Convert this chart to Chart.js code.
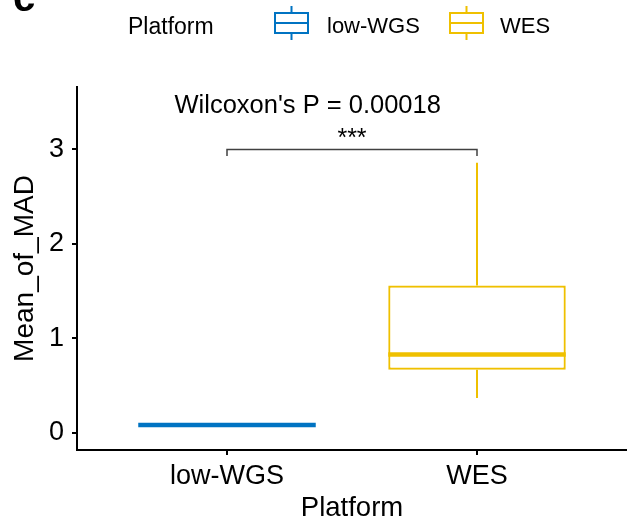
<!DOCTYPE html>
<html>
<head>
<meta charset="utf-8">
<script src="https://cdn.jsdelivr.net/npm/chart.js@4/dist/chart.umd.min.js"></script>
<style>
  html, body { margin: 0; padding: 0; background: #fff; }
  canvas { display: block; }
</style>
</head>
<body>
<canvas id="chart" width="627" height="525"></canvas>
<script>
// Mean_of_MAD per sequencing platform (box-plot summary statistics)
const platforms   = ['low-WGS', 'WES'];
const boxColors   = ['#0073C2', '#EFC000'];
const whiskerLow  = [0.080, 0.37];
const quartile1   = [0.083, 0.67];
const medians     = [0.085, 0.83];
const quartile3   = [0.087, 1.56];
const whiskerHigh = [0.090, 2.86];
const yTickValues = [0, 1, 2, 3];

// Significance annotation
const pValueText  = "Wilcoxon's P = 0.00018";
const pValueAt    = [0.79, 3.39];   // [x, y] in data units (left edge, baseline)
const starsText   = '***';
const starsY      = 3.04;
const bracketFrom = 1, bracketTo = 2;
const bracketY    = 3.0;
const bracketTip  = 2.93;

const FONT = '"Liberation Sans", Arial, Helvetica, sans-serif';

const boxPlotPlugin = {
  id: 'boxPlotParts',
  afterDatasetsDraw(chart) {
    const { ctx, scales: { x, y } } = chart;
    const meta = chart.getDatasetMeta(0);
    ctx.save();
    platforms.forEach((_, i) => {
      const bar = meta.data[i];
      const cx = x.getPixelForValue(i + 1);
      const half = bar.width / 2;
      ctx.strokeStyle = boxColors[i];
      ctx.lineCap = 'butt';
      // whiskers
      ctx.lineWidth = 2;
      ctx.beginPath();
      ctx.moveTo(cx, y.getPixelForValue(quartile3[i]));
      ctx.lineTo(cx, y.getPixelForValue(whiskerHigh[i]));
      ctx.moveTo(cx, y.getPixelForValue(quartile1[i]));
      ctx.lineTo(cx, y.getPixelForValue(whiskerLow[i]));
      ctx.stroke();
      // median
      ctx.lineWidth = 4.5;
      ctx.beginPath();
      const my = y.getPixelForValue(medians[i]);
      ctx.moveTo(cx - half, my);
      ctx.lineTo(cx + half, my);
      ctx.stroke();
    });

    // comparison bracket
    const x1 = x.getPixelForValue(bracketFrom);
    const x2 = x.getPixelForValue(bracketTo);
    const by = y.getPixelForValue(bracketY);
    const ty = y.getPixelForValue(bracketTip);
    ctx.strokeStyle = '#404040';
    ctx.lineWidth = 1.5;
    ctx.beginPath();
    ctx.moveTo(x1, ty);
    ctx.lineTo(x1, by);
    ctx.lineTo(x2, by);
    ctx.lineTo(x2, ty);
    ctx.stroke();

    ctx.fillStyle = '#000';
    ctx.font = '25px ' + FONT;
    ctx.textAlign = 'center';
    ctx.textBaseline = 'alphabetic';
    ctx.fillText(starsText, (x1 + x2) / 2, y.getPixelForValue(starsY));

    ctx.font = '25.5px ' + FONT;
    ctx.textAlign = 'left';
    ctx.fillText(pValueText, x.getPixelForValue(pValueAt[0]), y.getPixelForValue(pValueAt[1]));
    ctx.restore();
  },
  afterDraw(chart) {
    const { ctx } = chart;
    ctx.save();
    // panel letter
    ctx.fillStyle = '#000';
    ctx.font = 'bold 40px ' + FONT;
    ctx.textAlign = 'left';
    ctx.textBaseline = 'alphabetic';
    ctx.fillText('c', 13, 11);

    // legend
    ctx.font = '23px ' + FONT;
    ctx.fillText('Platform', 128, 34);
    const keyX = [275, 450];
    const labelX = [327, 500];
    platforms.forEach((name, i) => {
      const kx = keyX[i];
      const w = 33;
      ctx.strokeStyle = boxColors[i];
      ctx.lineWidth = 2;
      ctx.beginPath();
      ctx.moveTo(kx + w / 2, 6);
      ctx.lineTo(kx + w / 2, 13);
      ctx.moveTo(kx + w / 2, 33);
      ctx.lineTo(kx + w / 2, 40);
      ctx.stroke();
      ctx.strokeRect(kx, 13, w, 20);
      ctx.beginPath();
      ctx.moveTo(kx, 23);
      ctx.lineTo(kx + w, 23);
      ctx.stroke();
      ctx.fillStyle = '#000';
      ctx.font = '22px ' + FONT;
      ctx.fillText(name, labelX[i], 33);
    });
    ctx.restore();
  }
};

new Chart(document.getElementById('chart'), {
  type: 'bar',
  data: {
    datasets: [{
      data: platforms.map((p, i) => ({ x: i + 1, y: [quartile1[i], quartile3[i]] })),
      backgroundColor: '#ffffff',
      borderColor: boxColors,
      borderWidth: 2.2,
      borderSkipped: false,
      barPercentage: 0.71,
      categoryPercentage: 1
    }]
  },
  options: {
    responsive: false,
    devicePixelRatio: 1,
    animation: false,
    layout: { padding: { top: 87, right: 0, bottom: 0, left: 0 } },
    plugins: { legend: { display: false }, tooltip: { enabled: false } },
    scales: {
      x: {
        type: 'linear',
        min: 0.4,
        max: 2.6,
        offset: false,
        afterFit: s => { s.height = 75; },
        afterBuildTicks: s => { s.ticks = platforms.map((_, i) => ({ value: i + 1 })); },
        ticks: {
          callback: v => platforms[v - 1] ?? '',
          color: '#000',
          font: { family: FONT, size: 27 },
          padding: 5,
          maxRotation: 0,
          autoSkip: false
        },
        grid: { offset: false, drawOnChartArea: false, drawTicks: true, tickLength: 5, color: '#000', lineWidth: 2 },
        border: { display: true, color: '#000', width: 2 },
        title: { display: true, text: 'Platform', color: '#000', font: { family: FONT, size: 27.5 }, padding: { top: 0, bottom: 0 } }
      },
      y: {
        min: -0.18,
        max: 3.66,
        afterFit: s => { s.width = 77; },
        afterBuildTicks: s => { s.ticks = yTickValues.map(v => ({ value: v })); },
        ticks: {
          color: '#000',
          font: { family: FONT, size: 27 },
          padding: 8
        },
        grid: { drawOnChartArea: false, drawTicks: true, tickLength: 5, color: '#000', lineWidth: 2 },
        border: { display: true, color: '#000', width: 2 },
        title: { display: true, text: 'Mean_of_MAD', color: '#000', font: { family: FONT, size: 28 }, padding: { top: 8, bottom: 0 } }
      }
    }
  },
  plugins: [boxPlotPlugin]
});
</script>
</body>
</html>
